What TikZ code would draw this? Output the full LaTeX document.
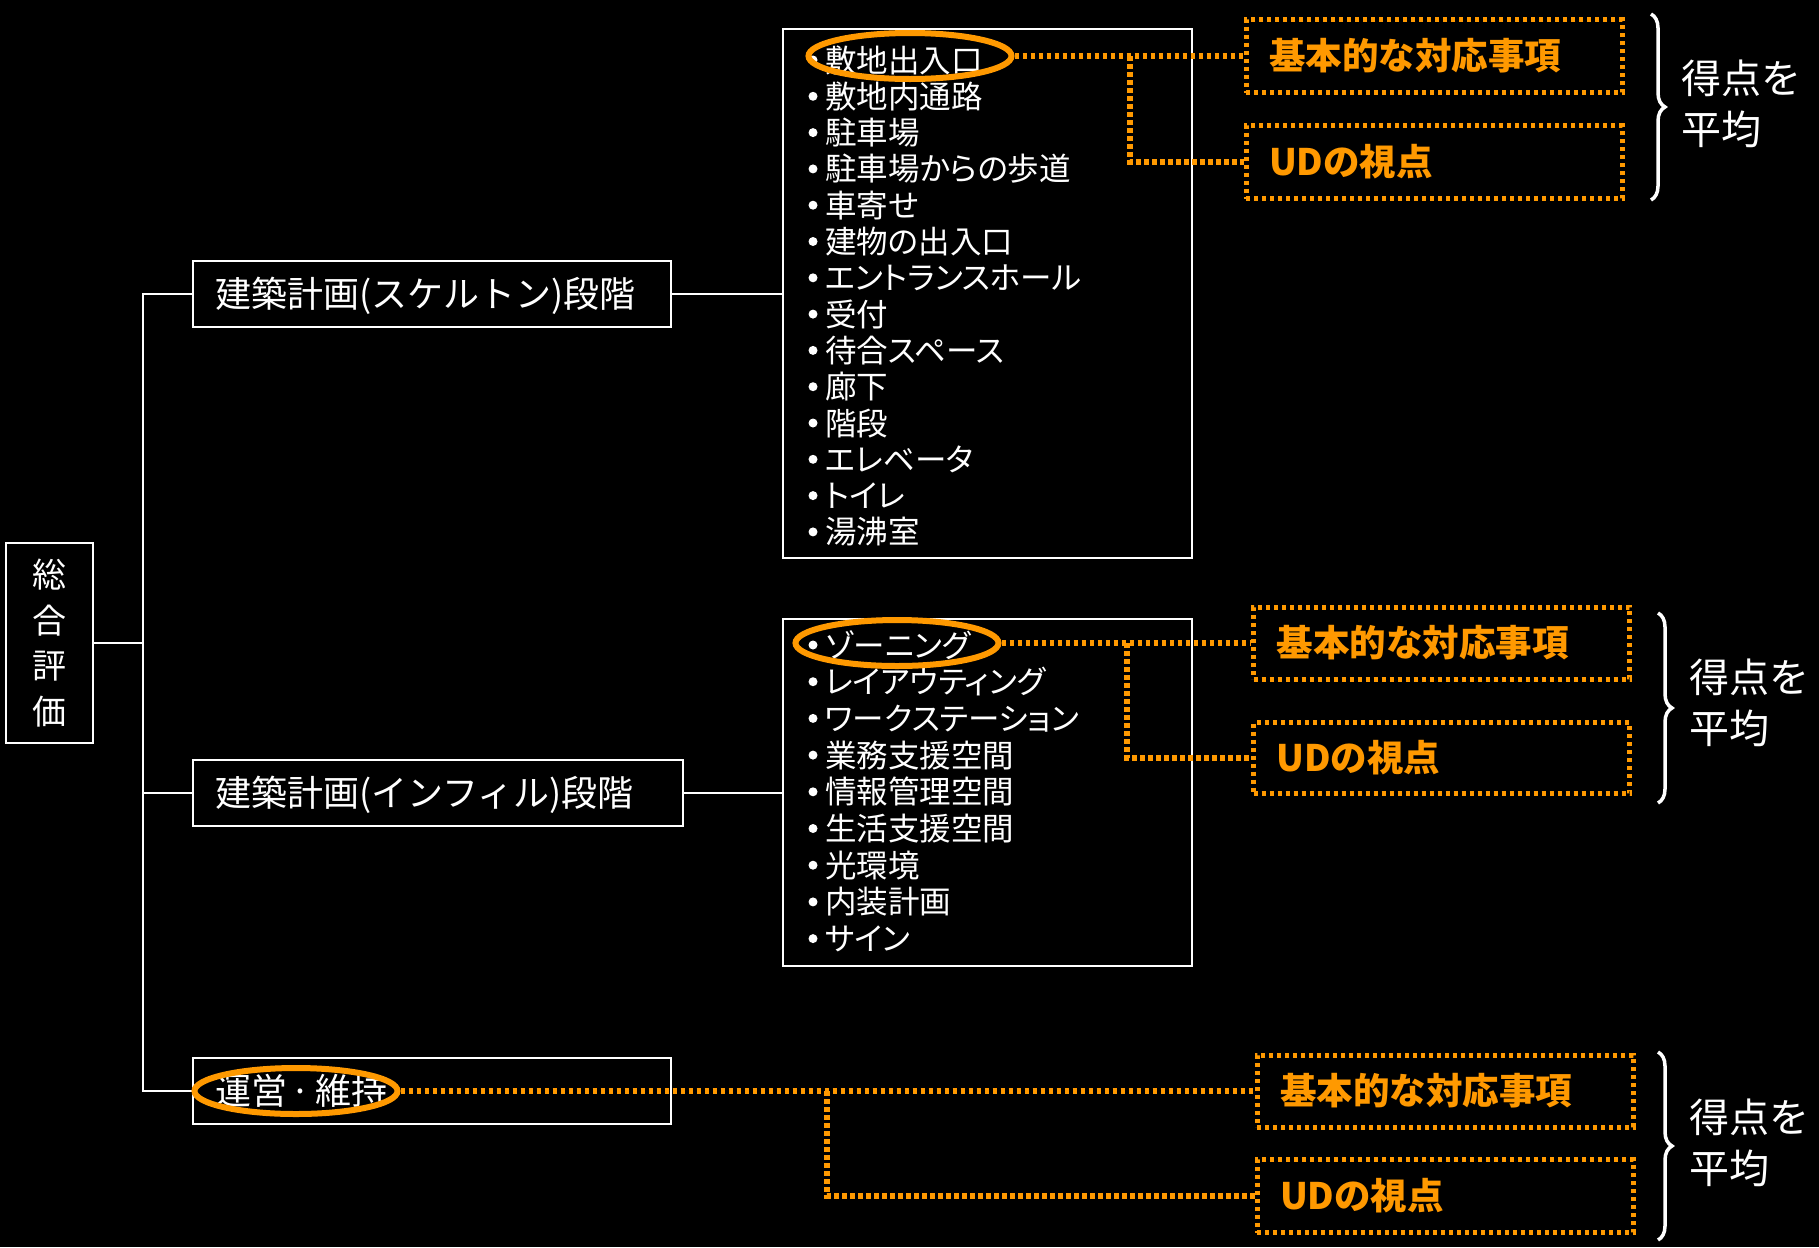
\documentclass[tikz,border=0pt]{standalone}
\usepackage{fontspec}
\setmainfont{Noto Sans CJK JP}
\newfontfamily\jpp[RawFeature=+palt]{Noto Sans CJK JP}
\usetikzlibrary{shapes.geometric,decorations.pathreplacing}
\definecolor{org}{HTML}{FF9900}
\newcommand\jfs[2]{\fontsize{#1bp}{#2bp}\selectfont}
\begin{document}
\begin{tikzpicture}[x=1bp,y=-1bp,
  wline/.style={draw=white, line width=2.8bp},
  wbox/.style={draw=white, line width=2.8bp, rectangle, inner ysep=0pt, text=white},
  stagebox/.style={wbox, font=\jfs{36}{40}, align=left, inner xsep=22bp, text height=31.7bp, text depth=4.3bp, minimum height=66bp},
  obox/.style={draw=org, line width=5bp, dash pattern=on 4bp off 4bp, rectangle, text=org, font=\bfseries\jfs{36.5}{40}, align=left, inner xsep=23bp, inner ysep=0pt, text width=330bp, text height=32bp, text depth=4.5bp},
  odot/.style={draw=org, line width=5.5bp, dash pattern=on 4.5bp off 3.5bp},
  ell/.style={ellipse, draw=org, line width=6bp, minimum width=203bp, minimum height=46bp, inner sep=0pt},
  item/.style={anchor=base west, inner sep=0pt, text=white, font=\jpp\jfs{31.5}{36}},
  brc/.style={draw=white, line width=3.5bp, decorate, decoration={brace, amplitude=14bp}},
  avg/.style={anchor=west, inner sep=0pt, text=white, align=left, font=\jfs{40}{51}}
]
\useasboundingbox (0,0) rectangle (1819,1247);
\fill[black] (0,0) rectangle (1819,1247);

% main boxes
\node[wbox, minimum width=87bp, minimum height=200bp, align=center, inner sep=0pt, font=\jfs{34}{45.7}] (tot) at (49.5,643) {総\\合\\評\\価};
\node[stagebox, text width=434bp] (s1) at (432,294) {建築計画(スケルトン)段階};
\node[stagebox, text width=446bp] (s2) at (438,793) {建築計画(インフィル)段階};
\node[stagebox, text width=434bp] (s3) at (432,1091) {運営\hspace{4bp}·\hspace{4bp}維持};
\node[wbox, minimum width=409bp, minimum height=529bp] (l1) at (987.5,293.5) {};
\node[wbox, minimum width=409bp, minimum height=347bp] (l2) at (987.5,792.5) {};

% tree connectors
\coordinate (t1) at (143,294);
\coordinate (t3) at (143,1091);
\draw[wline] (tot.east) -- (tot.east -| t1);
\draw[wline] (s1.west) -- (t1) -- (t3) -- (s3.west);
\draw[wline] (s2.west) -- (s2.west -| t1);
\draw[wline] (s1.east) -- (s1.east -| l1.west);
\draw[wline] (s2.east) -- (s2.east -| l2.west);

% list items
\foreach \t [count=\k from 0] in {敷地出入口,敷地内通路,駐車場,駐車場からの歩道,車寄せ,建物の出入口,エントランスホール,受付,待合スペース,廊下,階段,エレベータ,トイレ,湯沸室} {
  \pgfmathsetmacro\yy{60+36.3*\k}
  \fill[white] (813,\yy) circle[radius=4.5bp];
  \node[item] (pa\k) at (825,\yy+12) {\t};
}
\foreach \t [count=\k from 0] in {ゾーニング,レイアウティング,ワークステーション,業務支援空間,情報管理空間,生活支援空間,光環境,内装計画,サイン} {
  \pgfmathsetmacro\yy{645+36.7*\k}
  \fill[white] (813,\yy) circle[radius=4.5bp];
  \node[item] (pb\k) at (825,\yy+12) {\t};
}

% orange boxes
\node[obox, minimum height=73bp] (a1) at (1434,56) {基本的な対応事項};
\node[obox, minimum height=73bp] (u1) at (1434,162) {UDの視点};
\node[obox, minimum height=72bp] (a2) at (1441.5,643) {基本的な対応事項};
\node[obox, minimum height=71bp] (u2) at (1441.5,758) {UDの視点};
\node[obox, minimum height=72bp] (a3) at (1445,1091) {基本的な対応事項};
\node[obox, minimum height=73bp] (u3) at (1445,1196) {UDの視点};

% ellipses
\node[ell] (e1) at (910,56) {};
\node[ell] (e2) at (897,643) {};
\node[ell] (e3) at (296,1091) {};

% dotted connectors
\coordinate (j1) at (1130,56);
\coordinate (j2) at (1127,643);
\coordinate (j3) at (827,1091);
\draw[odot] (e1.east) -- (a1.west);
\draw[odot] (j1) |- (u1.west);
\draw[odot] (e2.east) -- (a2.west);
\draw[odot] (j2) |- (u2.west);
\draw[odot] (e3.east) -- (a3.west);
\draw[odot] (j3) |- (u3.west);

% braces and labels
\draw[brc] (1651,14) -- (1651,200);
\draw[brc] (1658,613) -- (1658,803);
\draw[brc] (1658,1052) -- (1658,1240);
\node[avg] (g1) at (1681,104) {得点を\\平均};
\node[avg] (g2) at (1689,703) {得点を\\平均};
\node[avg] (g3) at (1689,1143) {得点を\\平均};
\end{tikzpicture}
\end{document}
